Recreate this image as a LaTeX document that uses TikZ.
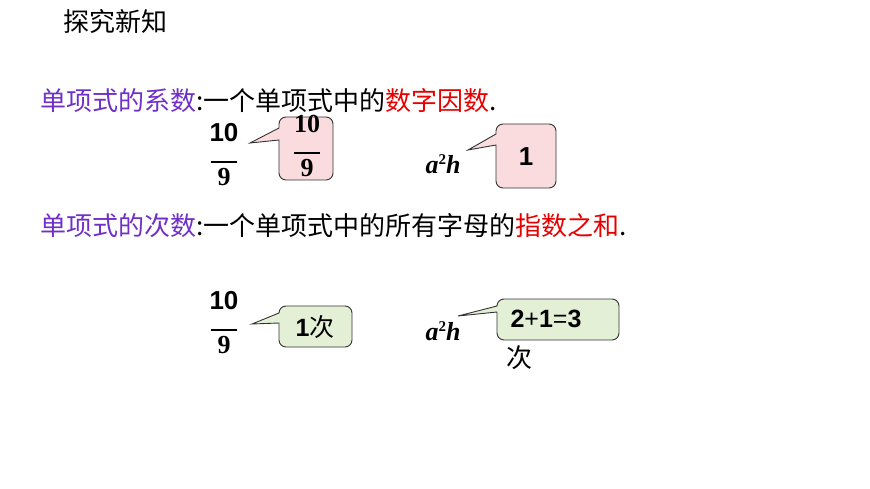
\documentclass[tikz,border=0pt]{standalone}
\usepackage{fontspec}
\setmainfont{Liberation Serif}
\newfontfamily\cjk{Noto Sans CJK SC}
\newfontfamily\arialf{Liberation Sans}
\definecolor{pur}{RGB}{112,48,200}
\definecolor{rd}{RGB}{230,0,0}
\definecolor{pinkf}{RGB}{250,220,222}
\definecolor{greenf}{RGB}{228,240,214}
\newcommand{\myfrac}[2]{\begin{tabular}{@{}c@{}}#1\\[-7pt]\rule{26pt}{1.5pt}\\[-5pt]#2\end{tabular}}
\begin{document}
\begin{tikzpicture}[x=1pt,y=-1pt,
  txt/.style={anchor=west,inner sep=0pt,font=\fontsize{26}{30}\selectfont},
  call/.style={draw=black!80,line width=0.9pt},
  num/.style={inner sep=0pt,font=\fontsize{26}{28}\selectfont}]
\useasboundingbox (0,0) rectangle (870,489);
\node[txt] (title) at (63,22) {\cjk 探究新知};
\node[txt] (l1) at (40,101) {\cjk\textcolor{pur}{单项式的系数}:一个单项式中的\textcolor{rd}{数字因数}.};
\node[txt] (l2) at (40,226) {\cjk\textcolor{pur}{单项式的次数}:一个单项式中的所有字母的\textcolor{rd}{指数之和}.};
% fractions
\node[num] (f1) at (224,158) {\myfrac{\arialf\bfseries 10}{\bfseries 9}};
\node[num] (f2) at (224,326) {\myfrac{\arialf\bfseries 10}{\bfseries 9}};
\node[num] (m1) at (443,164) {\textbf{\textit{a}}\raisebox{0.7ex}{\fontsize{15}{15}\selectfont\bfseries 2}\textbf{\textit{h}}};
\node[num] (m2) at (443,331) {\textbf{\textit{a}}\raisebox{0.7ex}{\fontsize{15}{15}\selectfont\bfseries 2}\textbf{\textit{h}}};
% callout 1
\coordinate (t1) at (250,143);
\draw[call,fill=pinkf] (t1) -- (279,128) [rounded corners=7pt] -- (279,117) -- (333,117) -- (333,180) -- (279,180) [sharp corners] -- (279,140) -- cycle;
\node[num] (c1) at (307,149) {\myfrac{\bfseries 10}{\bfseries 9}};
% callout 2
\coordinate (t2) at (468,150);
\draw[call,fill=pinkf] (t2) -- (496,134) [rounded corners=7pt] -- (496,124) -- (556,124) -- (556,188) -- (496,188) [sharp corners] -- (496,145) -- cycle;
\node[num,font=\fontsize{26}{28}\selectfont\arialf\bfseries] (c2) at (526,157) {1};
% callout 3
\coordinate (t3) at (252,324);
\draw[call,fill=greenf] (t3) -- (279,313) [rounded corners=7pt] -- (279,306) -- (352,306) -- (352,347) -- (279,347) [sharp corners] -- (279,323) -- cycle;
\node[num,font=\fontsize{25}{28}\selectfont\arialf\bfseries] (c3) at (315,327) {1{\cjk\mdseries 次}};
% callout 4
\coordinate (t4) at (458,316);
\draw[call,fill=greenf] (t4) -- (497,306) [rounded corners=7pt] -- (497,299) -- (619,299) -- (619,340) -- (497,340) [sharp corners] -- (497,312) -- cycle;
\node[num,font=\fontsize{25}{28}\selectfont\arialf\bfseries] (c4) at (546,319) {2{\mdseries+}1{\mdseries=}3};
\node[num,font=\fontsize{26}{28}\selectfont\cjk] (ci) at (519,358) {次};
\end{tikzpicture}
\end{document}
